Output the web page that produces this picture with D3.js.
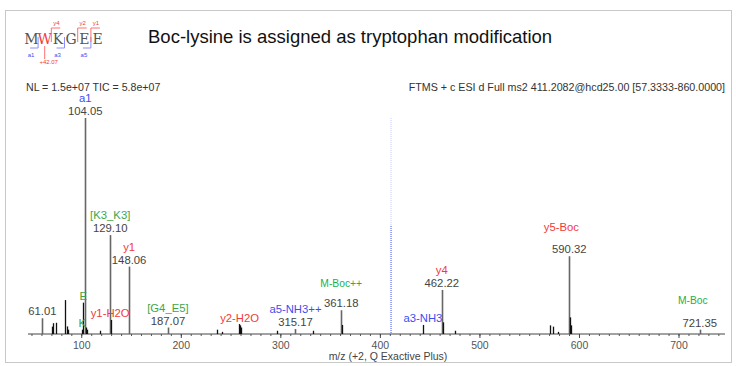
<!DOCTYPE html>
<html>
<head>
<meta charset="utf-8">
<script src="https://cdn.jsdelivr.net/npm/d3@7"></script>
<style>
  body { margin: 0; background: #fff; }
  svg { font-family: "Liberation Sans", Arial, sans-serif; }
</style>
</head>
<body>
<svg id="spectrum" width="736" height="366"></svg>
<script>
// peak list (m/z, relative intensity %)
var peakMz  = [61.01, 70.3, 71.9, 74.3, 84.08, 86.1, 87.1, 101.11, 102.05, 104.05, 105.07, 106.1, 118.8,
               129.10, 130.05, 148.06, 187.07, 236.0, 241.4, 258.1, 259.1, 260.1, 296.9, 315.17, 333.0,
               361.18, 361.68, 443.2, 462.22, 463.22, 475.5, 570.8, 573.6, 579.3, 590.32, 591.32, 592.3, 721.35];
var peakInt = [7.3, 3.4, 5.0, 5.2, 15.7, 3.5, 2.0, 2.0, 14.5, 100, 3.0, 2.0, 1.5,
               45.8, 6.5, 31.2, 3.0, 2.0, 1.0, 4.6, 4.0, 3.0, 1.5, 2.3, 1.5,
               11.0, 4.2, 4.2, 20.4, 5.4, 1.5, 4.0, 3.4, 1.0, 36.0, 7.7, 4.0, 2.0];

// annotations
var annMz    = [61.01, 101.11, 102.05, 104.05, 129.10, 130.05, 148.06, 187.07, 259.1, 315.17, 361.18, 443.2, 462.22, 590.32, 721.35];
var annIon   = ["", "K", "E", "a1", "[K3_K3]", "y1-H2O", "y1", "[G4_E5]", "y2-H2O", "a5-NH3++", "M-Boc++", "a3-NH3", "y4", "y5-Boc", "M-Boc"];
var annMass  = ["61.01", "", "", "104.05", "129.10", "", "148.06", "187.07", "", "315.17", "361.18", "", "462.22", "590.32", "721.35"];
var annColor = ["", "g", "g", "b", "g", "r", "r", "g", "r", "b", "g2", "b", "r", "r", "g2"];

var precursorMz = 411.2082;
var majorTicks = [100, 200, 300, 400, 500, 600, 700];

var palette = {r: "#f23a3a", b: "#3d4df0", g: "#3ea645", g2: "#22b04a"};

var svg = d3.select("svg#spectrum");
var baseY = 334, topY = 118;

svg.append("rect")
    .attr("x", 5.5).attr("y", 10.5)
    .attr("width", 726).attr("height", 352)
    .attr("fill", "none").attr("stroke", "#c8c8c8");

// sequence map
var seq = ["M", "W", "K", "G", "E", "E"];
var seqX = d3.scaleLinear().domain([0, 5]).range([31.5, 97.5]);
var sg = svg.append("g");
sg.selectAll("text.res").data(seq).enter().append("text")
    .attr("x", function(d, i) { return seqX(i); })
    .attr("y", 44)
    .attr("text-anchor", "middle")
    .attr("font-family", "DejaVu Serif, serif")
    .attr("font-size", 14)
    .attr("fill", function(d, i) { return i === 1 ? "#f23a3a" : "#555"; })
    .text(function(d) { return d; });

function gap(i) { return seqX(i) + 6.6; }
// a-type (below) brackets
[[0, "a1"], [2, "a3"], [4, "a5"]].forEach(function(p) {
  var gx = gap(p[0]);
  sg.append("path").attr("d", "M" + gx + ",37V48H" + (gx - 8))
    .attr("fill", "none").attr("stroke", "#8c8cff").attr("stroke-width", 1);
  sg.append("text").attr("x", gx - 7).attr("y", 57).attr("text-anchor", "middle")
    .attr("font-size", 6).attr("fill", "#3d4df0").text(p[1]);
});
// y-type (above) brackets
[[1, "y4"], [3, "y2"], [4, "y1"]].forEach(function(p) {
  var gx = gap(p[0]);
  sg.append("path").attr("d", "M" + gx + ",42V28H" + (gx + 9))
    .attr("fill", "none").attr("stroke", "#ff7070").attr("stroke-width", 1);
  sg.append("text").attr("x", gx + 5).attr("y", 25).attr("text-anchor", "middle")
    .attr("font-size", 6).attr("fill", "#f23a3a").text(p[1]);
});
sg.append("line").attr("x1", seqX(1)).attr("x2", seqX(1)).attr("y1", 46).attr("y2", 59)
    .attr("stroke", "#ff7070");
sg.append("text").attr("x", seqX(1) + 4).attr("y", 64).attr("text-anchor", "middle")
    .attr("font-size", 6).attr("fill", "#f23a3a").text("+42.07");

svg.append("text").attr("x", 148).attr("y", 43)
    .attr("font-size", 18.5).attr("fill", "#111")
    .text("Boc-lysine is assigned as tryptophan modification");

svg.append("text").attr("x", 26).attr("y", 91)
    .attr("font-size", 10.6).attr("fill", "#333")
    .text("NL = 1.5e+07 TIC = 5.8e+07");
svg.append("text").attr("x", 725).attr("y", 91).attr("text-anchor", "end")
    .attr("font-size", 10.7).attr("fill", "#333")
    .text("FTMS + c ESI d Full ms2 411.2082@hcd25.00 [57.3333-860.0000]");

var x = d3.scaleLinear().domain([46.5, 746.7]).range([28, 725]);
var y = d3.scaleLinear().domain([0, 100]).range([baseY, topY]);

// axis
var minor = d3.range(50, 747, 10);
svg.append("g")
    .attr("transform", "translate(0," + baseY + ")")
    .call(d3.axisBottom(x).tickValues(minor).tickSize(2).tickFormat(""))
    .call(function(g) {
      g.select(".domain").attr("stroke", "#444").attr("d", "M28,0H725");
      g.selectAll(".tick line").attr("stroke", "#555");
    });
svg.append("g")
    .attr("transform", "translate(0," + baseY + ")")
    .call(d3.axisBottom(x).tickValues(majorTicks).tickSize(4).tickPadding(4))
    .call(function(g) {
      g.select(".domain").remove();
      g.selectAll(".tick line").attr("stroke", "#444");
      g.selectAll(".tick text").attr("font-size", 10.5).attr("fill", "#555")
        .attr("font-family", "Liberation Sans, Arial, sans-serif");
    });
svg.append("text").attr("x", 388).attr("y", 360).attr("text-anchor", "middle")
    .attr("font-size", 10.5).attr("fill", "#444")
    .text("m/z (+2, Q Exactive Plus)");

// precursor marker
svg.append("line")
    .attr("x1", x(precursorMz)).attr("x2", x(precursorMz))
    .attr("y1", y(100)).attr("y2", y(50))
    .attr("stroke", "#6070ff").attr("stroke-dasharray", "1,1").attr("opacity", 0.35);
svg.append("line")
    .attr("x1", x(precursorMz)).attr("x2", x(precursorMz))
    .attr("y1", y(50)).attr("y2", baseY)
    .attr("stroke", "#3d4df0").attr("stroke-dasharray", "1,1");

// peaks
var peaks = peakMz.map(function(m, i) { return {mz: m, it: peakInt[i], lab: annMass.indexOf(m.toFixed(2)) >= 0}; });
svg.append("g").selectAll("line").data(peaks).enter().append("line")
    .attr("x1", function(d) { return Math.round(x(d.mz)) + 0.5; })
    .attr("x2", function(d) { return Math.round(x(d.mz)) + 0.5; })
    .attr("y1", baseY)
    .attr("y2", function(d) { return y(d.it); })
    .attr("stroke", function(d) { return d.lab ? "#666" : "#111"; })
    .attr("stroke-width", function(d) { return d.lab ? 1.6 : 1.3; });

// label offsets for displaced ion names
var ionShift = {"M-Boc++": [0, -7], "y5-Boc": [-8, -9], "M-Boc": [-7, -10], "y1-H2O": [-1, 0]};

var ann = svg.append("g").attr("text-anchor", "middle").attr("font-size", 11.3);
annMz.forEach(function(m, i) {
  var it = peakInt[peakMz.indexOf(m)];
  var px = x(m), py = y(it);
  var massY = py - 3;
  if (annMass[i]) {
    ann.append("text").attr("x", px).attr("y", massY).attr("fill", "#444").text(annMass[i]);
  }
  if (annIon[i]) {
    var s = ionShift[annIon[i]] || [0, 0];
    var iy = annMass[i] ? massY - 13 : py - 3;
    ann.append("text")
        .attr("x", px + s[0]).attr("y", iy + s[1])
        .attr("fill", palette[annColor[i]])
        .attr("font-size", annColor[i] === "g2" ? 10.3 : 11.3)
        .text(annIon[i]);
  }
});
</script>
</body>
</html>
